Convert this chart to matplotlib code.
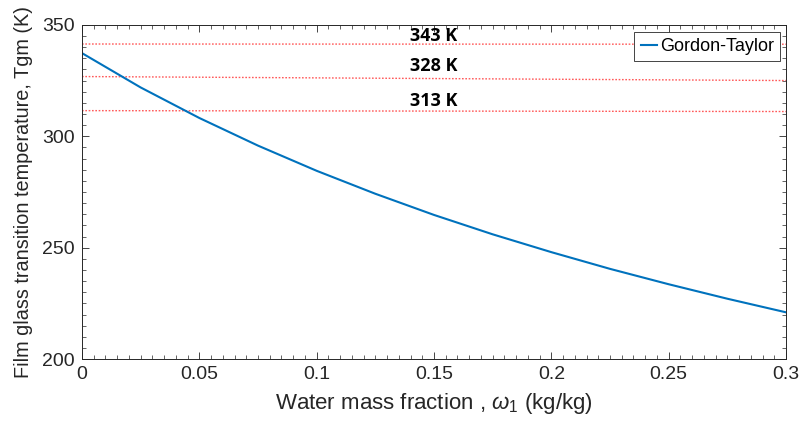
import numpy as np
import matplotlib
matplotlib.use('Agg')
import matplotlib.pyplot as plt
from matplotlib.ticker import MultipleLocator

plt.rcParams['font.family'] = ['Liberation Sans', 'DejaVu Sans']
plt.rcParams['mathtext.fontset'] = 'custom'
plt.rcParams['mathtext.rm'] = 'Liberation Sans'
plt.rcParams['mathtext.it'] = 'Liberation Sans:italic'

# Gordon-Taylor curve
w1 = [0.0, 0.025, 0.05, 0.075, 0.1, 0.125, 0.15, 0.175, 0.2, 0.225, 0.25, 0.275, 0.3]
tgm = [337.3, 321.9, 308.2, 295.8, 284.5, 274.2, 264.7, 256.0, 248.0, 240.5, 233.6, 227.1, 221.0]

# drying temperature reference lines (start, end)
ref_x = [0.0, 0.3]
ref_lines = {
    '343 K': [341.4, 341.3],
    '328 K': [326.8, 325.0],
    '313 K': [311.5, 311.1],
}
label_y = [345.2, 331.6, 315.9]

fig = plt.figure(figsize=(8, 4.21), dpi=100)
ax = fig.add_axes([0.1025, 0.147, 0.88, 0.794])

for (lab, yy), ly in zip(ref_lines.items(), label_y):
    ax.plot(ref_x, yy, linestyle=(0, (1.2, 1.2)), color='#ff5a5a', lw=1.0)
    ax.text(0.15, ly, lab, ha='center', va='center', fontsize=13,
            fontweight='bold', family=['Open Sans', 'DejaVu Sans'])

ax.plot(w1, tgm, color='#0072BD', lw=1.5, label='Gordon-Taylor')

ax.set_xlim(0, 0.3)
ax.set_ylim(200, 350)
ax.xaxis.set_minor_locator(MultipleLocator(0.005))
ax.yaxis.set_major_locator(MultipleLocator(50))
ax.yaxis.set_minor_locator(MultipleLocator(5))
ax.set_xticks([0, 0.05, 0.1, 0.15, 0.2, 0.25, 0.3])
ax.set_xticklabels(['0', '0.05', '0.1', '0.15', '0.2', '0.25', '0.3'])

ax.tick_params(which='both', direction='in', top=True, right=True,
               colors='#262626', labelsize=14)
ax.tick_params(which='major', length=5, width=0.6)
ax.tick_params(which='minor', length=3, width=0.5)
ax.tick_params(axis='x', pad=5)
ax.tick_params(axis='y', pad=5)
for s in ax.spines.values():
    s.set_color('#262626')
    s.set_linewidth(0.7)

ax.set_xlabel(r'Water mass fraction , $\mathit{\omega}_\mathit{1}$ (kg/kg)',
              fontsize=16, color='#262626', labelpad=6)
ax.set_ylabel('Film glass transition temperature, Tgm (K)', fontsize=14.3,
              color='#262626', labelpad=7)

leg = ax.legend(loc='upper right', fontsize=13, handlelength=0.9, handletextpad=0.15,
                borderpad=0.35, borderaxespad=0, fancybox=False, framealpha=1,
                edgecolor='#262626', bbox_to_anchor=(0.9915, 0.979))
leg.get_frame().set_linewidth(0.6)

plt.savefig('out.png', dpi=100)
